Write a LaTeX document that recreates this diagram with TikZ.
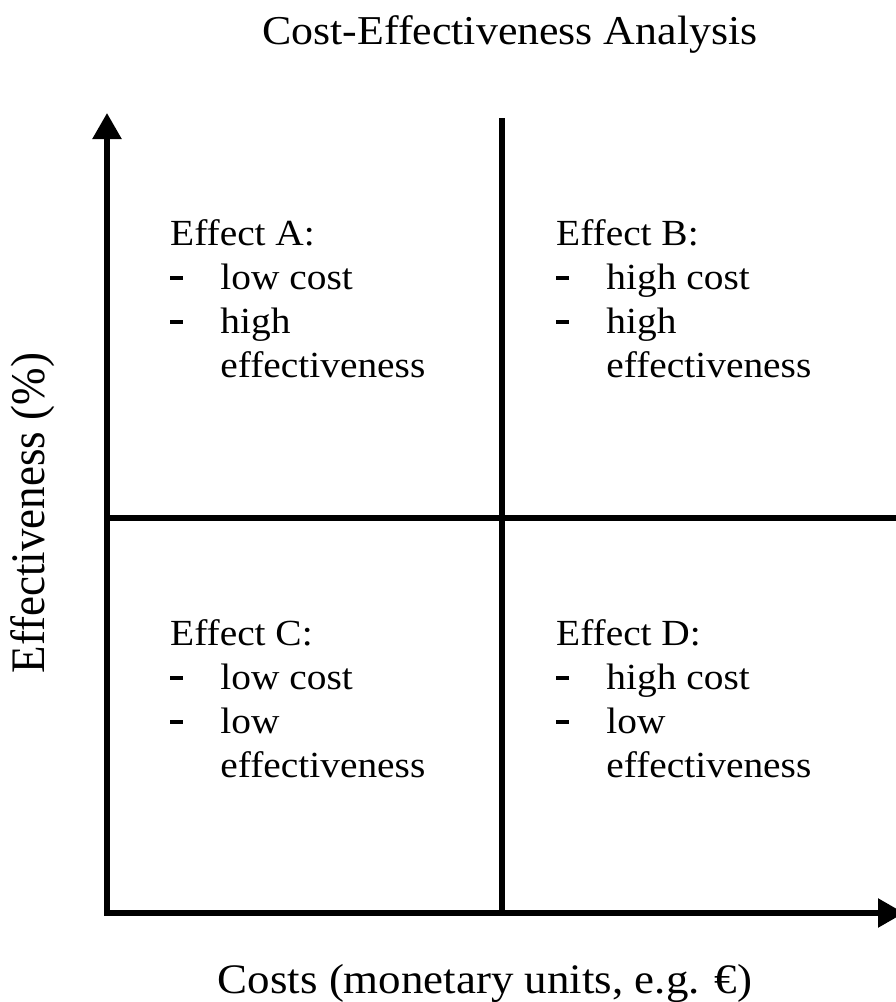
\documentclass[tikz,border=0pt]{standalone}
\usepackage{fontspec}
\setmainfont{Liberation Serif}
\usetikzlibrary{arrows.meta}
\newcommand{\qdash}{\makebox[47pt][l]{\rule[9.5pt]{12pt}{4pt}}}
\newcommand{\qtext}[4]{\vtop{\baselineskip=44pt\lineskiplimit=-100pt
  \hbox{#1}
  \hbox{\qdash#2}
  \hbox{\qdash#3}
  \hbox{\hspace{47pt}#4}}}
\newcommand{\hstretch}[1]{\scalebox{1.07}[1]{#1}}
\begin{document}
\begin{tikzpicture}[x=1pt,y=-1pt,
  axisline/.style={line width=5.5pt, line join=miter,
    {Triangle[length=26pt,width=28pt]}-{Triangle[length=26pt,width=28pt]}},
  divider/.style={line width=5.5pt},
  qlabel/.style={inner sep=0pt, anchor=base west},
  lbl/.style={inner sep=0pt, anchor=base}]
\clip (0,0) rectangle (896,1002);
\fill[white] (0,0) rectangle (896,1002);
% coordinates
\coordinate (O) at (107,913);
\coordinate (ytop) at (107,113);
\coordinate (xend) at (904,913);
\coordinate (vtop) at (502,118);
\coordinate (vbot) at (502,913);
\coordinate (hleft) at (107,518);
\coordinate (hright) at (900,518);
% lines
\draw[axisline] (ytop) -- (O) -- (xend);
\draw[divider] (vtop) -- (vbot);
\draw[divider] (hleft) -- (hright);
% title and axis labels
\node[lbl] (title) at (510,44) {\hstretch{\fontsize{41}{48}\selectfont Cost-Effectiveness Analysis}};
\node[lbl] (xlabel) at (485,993) {\hstretch{\fontsize{42}{48}\selectfont Costs (monetary units, e.g. €)}};
\node[lbl, rotate=90] (ylabel) at (45,513) {\scalebox{1}[1.07]{\fontsize{45}{50}\selectfont Effectiveness (\%)}};
% quadrant texts
\node[qlabel] (A) at (170,245) {\hstretch{\fontsize{36.8}{44}\selectfont\qtext{Effect A:}{low cost}{high}{effectiveness}}};
\node[qlabel] (B) at (556,245) {\hstretch{\fontsize{36.8}{44}\selectfont\qtext{Effect B:}{high cost}{high}{effectiveness}}};
\node[qlabel] (C) at (170,645) {\hstretch{\fontsize{36.8}{44}\selectfont\qtext{Effect C:}{low cost}{low}{effectiveness}}};
\node[qlabel] (D) at (556,645) {\hstretch{\fontsize{36.8}{44}\selectfont\qtext{Effect D:}{high cost}{low}{effectiveness}}};
\end{tikzpicture}
\end{document}
